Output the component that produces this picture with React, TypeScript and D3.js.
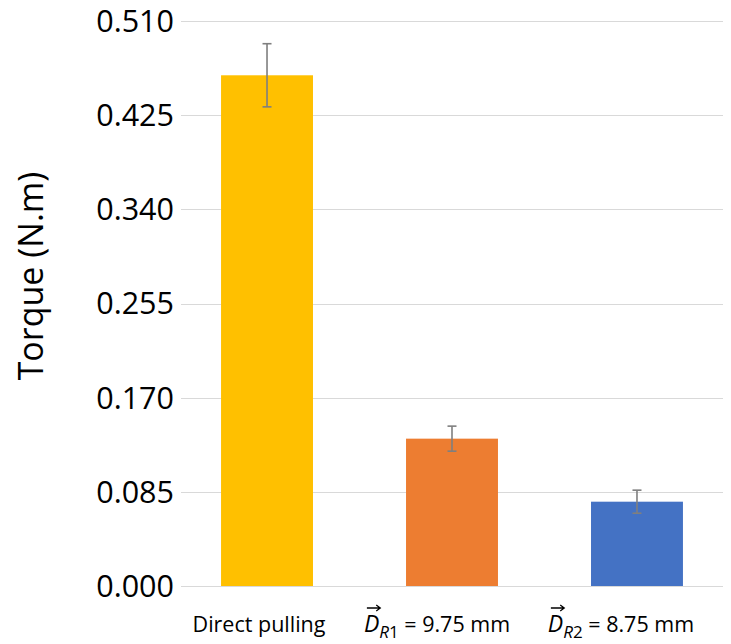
import React, { useEffect, useRef } from 'react';
import * as d3 from 'd3';

const categories = ['direct', 'r1', 'r2'];
const torque = [0.461, 0.133, 0.0761];
const torqueErr = [0.0285, 0.0113, 0.0104];
const barColors = ['#FFC000', '#ED7D31', '#4472C4'];
const yTicks = [0, 0.085, 0.17, 0.255, 0.34, 0.425, 0.51];
// label parts: plain text, or vector D with subscript + rest
const labelSub = ['', 'R1', 'R2'];
const labelRest = ['Direct pulling', ' = 9.75 mm', ' = 8.75 mm'];
const labelShift = [-8, -15, -16];

const W = 731;
const H = 644;
const font = '"Open Sans", "Noto Sans", sans-serif';

const App = () => {
    const ref = useRef<SVGSVGElement>(null);

    useEffect(() => {
        document.body.style.margin = '0';
        const svg = d3.select(ref.current);
        svg.selectAll('*').remove();

        const x = d3.scaleBand()
            .domain(categories)
            .range([181, 723])
            .paddingInner(0.503)
            .paddingOuter(0.2165);

        const y = d3.scaleLinear()
            .domain([0, 0.51])
            .range([586, 21]);

        // gridlines
        svg.append('g')
            .selectAll('line')
            .data(yTicks)
            .join('line')
            .attr('x1', 181)
            .attr('x2', 723)
            .attr('y1', d => Math.round(y(d)) + 0.5)
            .attr('y2', d => Math.round(y(d)) + 0.5)
            .attr('stroke', '#D9D9D9')
            .attr('stroke-width', 1);

        // tick labels
        svg.append('g')
            .selectAll('text')
            .data(yTicks)
            .join('text')
            .attr('x', 174)
            .attr('y', d => y(d))
            .attr('dy', '0.36em')
            .attr('text-anchor', 'end')
            .attr('font-family', font)
            .attr('font-size', 30.5)
            .attr('fill', '#000')
            .text(d => d3.format('.3f')(d));

        // y title
        svg.append('text')
            .attr('transform', 'translate(31,276) rotate(-90)')
            .attr('dy', '0.36em')
            .attr('text-anchor', 'middle')
            .attr('font-family', font)
            .attr('font-size', 34)
            .attr('fill', '#000')
            .text('Torque (N.m)');

        // bars
        svg.append('g')
            .selectAll('rect')
            .data(categories)
            .join('rect')
            .attr('x', d => x(d)!)
            .attr('width', x.bandwidth())
            .attr('y', (d, i) => y(torque[i]))
            .attr('height', (d, i) => y(0) - y(torque[i]))
            .attr('fill', (d, i) => barColors[i]);

        // error bars
        const eb = svg.append('g')
            .attr('stroke', '#7F7F7F')
            .attr('stroke-width', 1.6)
            .selectAll('g')
            .data(categories)
            .join('g');
        const cx = (d: string) => x(d)! + x.bandwidth() / 2;
        eb.append('line')
            .attr('x1', cx).attr('x2', cx)
            .attr('y1', (d, i) => y(torque[i] + torqueErr[i]))
            .attr('y2', (d, i) => y(torque[i] - torqueErr[i]));
        eb.append('line')
            .attr('x1', d => cx(d) - 4.5).attr('x2', d => cx(d) + 4.5)
            .attr('y1', (d, i) => y(torque[i] + torqueErr[i]))
            .attr('y2', (d, i) => y(torque[i] + torqueErr[i]));
        eb.append('line')
            .attr('x1', d => cx(d) - 4.5).attr('x2', d => cx(d) + 4.5)
            .attr('y1', (d, i) => y(torque[i] - torqueErr[i]))
            .attr('y2', (d, i) => y(torque[i] - torqueErr[i]));

        // x labels
        categories.forEach((c, i) => {
            const t = svg.append('text')
                .attr('x', cx(c) + labelShift[i])
                .attr('y', 632)
                .attr('text-anchor', 'middle')
                .attr('font-family', font)
                .attr('font-size', 21.5)
                .attr('fill', '#000');
            if (labelSub[i]) {
                t.append('tspan').attr('font-style', 'italic').attr('font-size', 23).text('D');
                t.append('tspan')
                    .attr('font-size', 17)
                    .attr('dy', 6)
                    .attr('font-style', 'italic')
                    .text(labelSub[i][0]);
                t.append('tspan')
                    .attr('font-size', 17)
                    .text(labelSub[i].slice(1));
                t.append('tspan').attr('dy', -6).text(labelRest[i]);
                const node = t.node() as SVGTextElement;
                const ext = node.getExtentOfChar(0);
                const ay = ext.y + 1;
                const ax1 = ext.x + 3;
                const ax2 = ext.x + ext.width + 1;
                svg.append('path')
                    .attr('d', `M${ax1},${ay}H${ax2}M${ax2 - 4},${ay - 3}L${ax2},${ay}L${ax2 - 4},${ay + 3}`)
                    .attr('fill', 'none')
                    .attr('stroke', '#000')
                    .attr('stroke-width', 1.3);
            } else {
                t.text(labelRest[i]);
            }
        });
    }, []);

    return <svg ref={ref} width={W} height={H} style={{ display: 'block', background: '#fff' }} />;
};

export default App;
